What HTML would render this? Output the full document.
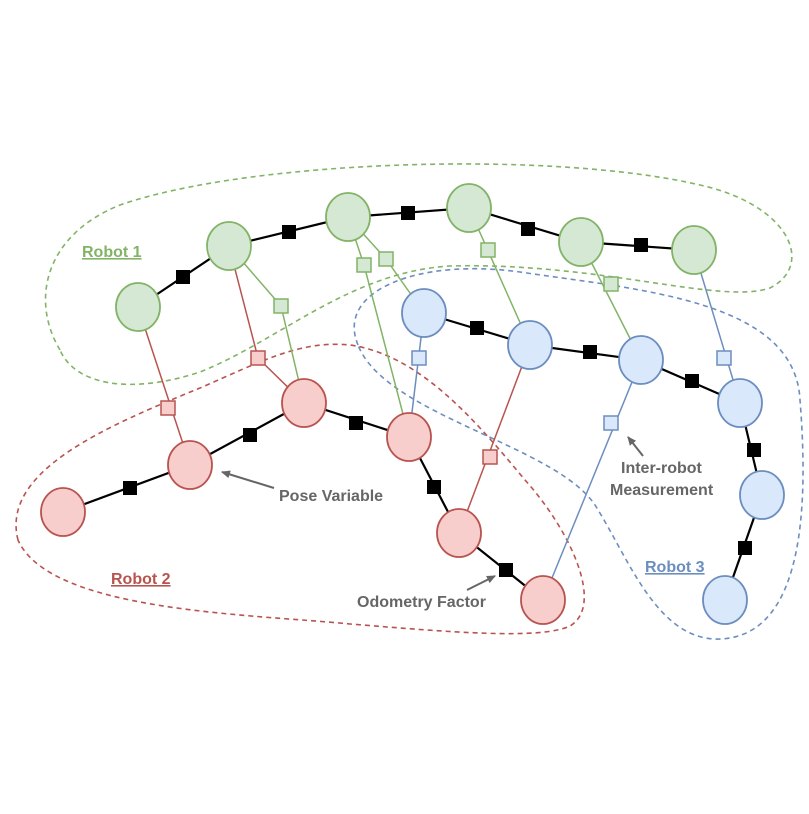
<!DOCTYPE html>
<html><head><meta charset="utf-8"><style>
html,body{margin:0;padding:0;background:#fff;}
svg text{font-family:"Liberation Sans",sans-serif;font-weight:bold;font-size:16px;}
</style></head><body>
<svg width="809" height="809" viewBox="0 0 809 809" xmlns="http://www.w3.org/2000/svg">
<defs>
<marker id="ar" markerWidth="10" markerHeight="10" refX="8" refY="5" orient="auto" markerUnits="userSpaceOnUse">
<path d="M0,1 L9,5 L0,9 Z" fill="#666"/></marker>
</defs>
<g fill="none" stroke-width="1.6" stroke-dasharray="5,4">
<path d="M60,350 C30,300 45,235 120,205 C250,160 550,150 700,185 C790,205 815,265 770,288 C720,305 600,262 450,266 C350,272 280,340 200,372 C130,395 75,385 60,350 Z" stroke="#82b366"/>
<path d="M18,540 C0,470 110,425 200,388 C260,362 300,340 350,345 C420,355 475,420 525,480 C570,530 605,605 570,626 C540,640 450,632 350,624 C250,614 50,612 18,540 Z" stroke="#b85450"/>
<path d="M358,345 C335,290 420,258 520,272 C640,290 795,300 800,400 C808,500 805,625 730,638 C660,650 630,560 595,505 C555,445 385,415 358,345 Z" stroke="#6c8ebf"/>
</g>
<g stroke-width="1.5" fill="none">
<line x1="138" y1="307" x2="190" y2="465" stroke="#b85450"/>
<line x1="229" y1="246" x2="258" y2="358" stroke="#b85450"/>
<line x1="258" y1="358" x2="304" y2="403" stroke="#b85450"/>
<line x1="229" y1="246" x2="281" y2="306" stroke="#82b366"/>
<line x1="281" y1="306" x2="304" y2="403" stroke="#82b366"/>
<line x1="348" y1="217" x2="364" y2="265" stroke="#82b366"/>
<line x1="364" y1="265" x2="409" y2="437" stroke="#82b366"/>
<line x1="348" y1="217" x2="386" y2="259" stroke="#82b366"/>
<line x1="386" y1="259" x2="424" y2="313" stroke="#82b366"/>
<line x1="424" y1="313" x2="409" y2="437" stroke="#6c8ebf"/>
<line x1="469" y1="208" x2="530" y2="345" stroke="#82b366"/>
<line x1="530" y1="345" x2="459" y2="533" stroke="#b85450"/>
<line x1="581" y1="242" x2="641" y2="360" stroke="#82b366"/>
<line x1="641" y1="360" x2="543" y2="600" stroke="#6c8ebf"/>
<line x1="694" y1="250" x2="740" y2="403" stroke="#6c8ebf"/>
</g>
<g stroke="#000" stroke-width="2.2" fill="none">
<polyline points="138,307 229,246 348,217 469,208 581,242 694,250"/>
<polyline points="424,313 530,345 641,360 740,403 762,495 725,600"/>
<polyline points="63,512 190,465 304,403 409,437 459,533 543,600"/>
</g>
<g fill="#000">
<rect x="176" y="270" width="14" height="14"/><rect x="282" y="225" width="14" height="14"/>
<rect x="401" y="206" width="14" height="14"/><rect x="521" y="222" width="14" height="14"/>
<rect x="634" y="238" width="14" height="14"/>
<rect x="470" y="321" width="14" height="14"/><rect x="583" y="345" width="14" height="14"/>
<rect x="685" y="374" width="14" height="14"/><rect x="747" y="443" width="14" height="14"/>
<rect x="738" y="541" width="14" height="14"/>
<rect x="123" y="481" width="14" height="14"/><rect x="243" y="428" width="14" height="14"/>
<rect x="349" y="416" width="14" height="14"/><rect x="427" y="480" width="14" height="14"/>
<rect x="499" y="563" width="14" height="14"/>
</g>
<g stroke-width="1.5">
<rect x="161" y="401" width="14" height="14" fill="#f8cecc" stroke="#b85450"/>
<rect x="251" y="351" width="14" height="14" fill="#f8cecc" stroke="#b85450"/>
<rect x="483" y="450" width="14" height="14" fill="#f8cecc" stroke="#b85450"/>
<rect x="274" y="299" width="14" height="14" fill="#d5e8d4" stroke="#82b366"/>
<rect x="357" y="258" width="14" height="14" fill="#d5e8d4" stroke="#82b366"/>
<rect x="379" y="252" width="14" height="14" fill="#d5e8d4" stroke="#82b366"/>
<rect x="481" y="243" width="14" height="14" fill="#d5e8d4" stroke="#82b366"/>
<rect x="604" y="277" width="14" height="14" fill="#d5e8d4" stroke="#82b366"/>
<rect x="412" y="351" width="14" height="14" fill="#dae8fc" stroke="#6c8ebf"/>
<rect x="604" y="416" width="14" height="14" fill="#dae8fc" stroke="#6c8ebf"/>
<rect x="717" y="351" width="14" height="14" fill="#dae8fc" stroke="#6c8ebf"/>
</g>
<g stroke-width="1.8">
<g fill="#d5e8d4" stroke="#82b366">
<ellipse cx="138" cy="307" rx="22" ry="24"/><ellipse cx="229" cy="246" rx="22" ry="24"/>
<ellipse cx="348" cy="217" rx="22" ry="24"/><ellipse cx="469" cy="208" rx="22" ry="24"/>
<ellipse cx="581" cy="242" rx="22" ry="24"/><ellipse cx="694" cy="250" rx="22" ry="24"/>
</g>
<g fill="#dae8fc" stroke="#6c8ebf">
<ellipse cx="424" cy="313" rx="22" ry="24"/><ellipse cx="530" cy="345" rx="22" ry="24"/>
<ellipse cx="641" cy="360" rx="22" ry="24"/><ellipse cx="740" cy="403" rx="22" ry="24"/>
<ellipse cx="762" cy="495" rx="22" ry="24"/><ellipse cx="725" cy="600" rx="22" ry="24"/>
</g>
<g fill="#f8cecc" stroke="#b85450">
<ellipse cx="63" cy="512" rx="22" ry="24"/><ellipse cx="190" cy="465" rx="22" ry="24"/>
<ellipse cx="304" cy="403" rx="22" ry="24"/><ellipse cx="409" cy="437" rx="22" ry="24"/>
<ellipse cx="459" cy="533" rx="22" ry="24"/><ellipse cx="543" cy="600" rx="22" ry="24"/>
</g>
</g>
<g stroke="#666" stroke-width="2">
<line x1="274" y1="488" x2="222" y2="472" marker-end="url(#ar)"/>
<line x1="643" y1="456" x2="628" y2="437" marker-end="url(#ar)"/>
<line x1="467" y1="590" x2="495" y2="576" marker-end="url(#ar)"/>
</g>
<text x="82" y="257" fill="#82b366" text-decoration="underline">Robot 1</text>
<text x="111" y="584" fill="#b85450" text-decoration="underline">Robot 2</text>
<text x="645" y="572" fill="#6c8ebf" text-decoration="underline">Robot 3</text>
<text x="279" y="501" fill="#666">Pose Variable</text>
<text x="621" y="473" fill="#666">Inter-robot</text>
<text x="610" y="495" fill="#666">Measurement</text>
<text x="357" y="607" fill="#666">Odometry Factor</text>
</svg>
</body></html>
